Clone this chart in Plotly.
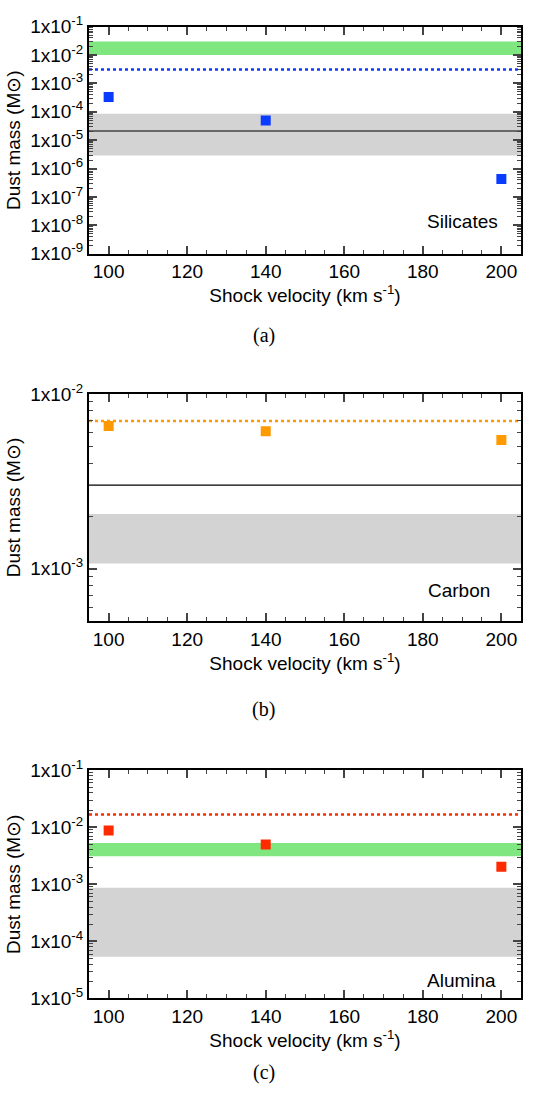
import math
import plotly.graph_objects as go

# ---------------- data ----------------
velocity = [100, 140, 200]

sil_mass = [3.3e-4, 4.9e-5, 4.3e-7]
sil_dotted = 3.1e-3
sil_green_band = [1.0e-2, 3.0e-2]
sil_gray_band = [2.9e-6, 8.5e-5]
sil_line = 2.1e-5

car_mass = [6.55e-3, 6.1e-3, 5.45e-3]
car_dotted = 7.0e-3
car_gray_band = [1.07e-3, 2.05e-3]
car_line = 3.0e-3

alu_mass = [8.75e-3, 4.97e-3, 2.03e-3]
alu_dotted = 1.67e-2
alu_green_band = [3.1e-3, 5.3e-3]
alu_gray_band = [5.4e-5, 8.75e-4]

panel_labels = ["Silicates", "Carbon", "Alumina"]
captions = ["(a)", "(b)", "(c)"]
x_ticks = [100, 120, 140, 160, 180, 200]

# ---------------- styling ----------------
X_RANGE = [95, 205]
W, H = 552, 1106
FONT = "Liberation Sans, Arial, Helvetica, sans-serif"
FS = 19
BLUE = "#0a3cff"
ORANGE = "#ff9900"
RED = "#ff2a00"
GREEN = "#80e680"
GRAY = "#d3d3d3"

x_dom = [89 / W, 521 / W]
panels_px = [(14, 246), (389.3, 621.7), (774, 1007.3)]
y_ranges = [(-9, -1), (math.log10(5e-4), -2), (-5, -1)]
x_minor = [v for v in range(95, 206, 5) if v not in x_ticks]

fig = go.Figure()


def band(lo, hi, color, xa, ya):
    fig.add_trace(go.Scatter(x=X_RANGE, y=[lo, lo], mode="lines", line=dict(width=0, color=color),
                             showlegend=False, hoverinfo="skip", xaxis=xa, yaxis=ya))
    fig.add_trace(go.Scatter(x=X_RANGE, y=[hi, hi], mode="lines", line=dict(width=0, color=color),
                             fill="tonexty", fillcolor=color, showlegend=False, hoverinfo="skip",
                             xaxis=xa, yaxis=ya))


def hline(v, color, dash, width, xa, ya):
    fig.add_trace(go.Scatter(x=X_RANGE, y=[v, v], mode="lines",
                             line=dict(color=color, dash=dash, width=width),
                             showlegend=False, hoverinfo="skip", xaxis=xa, yaxis=ya))


def points(vals, color, xa, ya):
    fig.add_trace(go.Scatter(x=velocity, y=vals, mode="markers",
                             marker=dict(symbol="square", size=10, color=color, line=dict(width=0)),
                             showlegend=False, xaxis=xa, yaxis=ya))


# panel a
band(*sil_gray_band, GRAY, "x", "y")
band(*sil_green_band, GREEN, "x", "y")
hline(sil_line, "#444444", "solid", 1.5, "x", "y")
hline(sil_dotted, BLUE, "dot", 2.5, "x", "y")
points(sil_mass, BLUE, "x", "y")

# panel b
band(*car_gray_band, GRAY, "x2", "y2")
hline(car_line, "black", "solid", 1.2, "x2", "y2")
hline(car_dotted, ORANGE, "dot", 2.5, "x2", "y2")
points(car_mass, ORANGE, "x2", "y2")

# panel c
band(*alu_gray_band, GRAY, "x3", "y3")
band(*alu_green_band, GREEN, "x3", "y3")
hline(alu_dotted, RED, "dot", 2.5, "x3", "y3")
points(alu_mass, RED, "x3", "y3")

layout = dict(
    width=W, height=H, margin=dict(l=0, r=0, t=0, b=0),
    paper_bgcolor="white", plot_bgcolor="white",
    font=dict(family=FONT, size=FS, color="black"),
    showlegend=False,
)

annotations = []
for i, (top, bot) in enumerate(panels_px):
    sfx = "" if i == 0 else str(i + 1)
    ydom = [1 - bot / H, 1 - top / H]
    lo, hi = y_ranges[i]
    dec = list(range(math.floor(lo), math.ceil(hi) + 1))
    major = [10.0 ** k for k in dec if lo - 1e-9 <= k <= hi + 1e-9]
    major_txt = ["1x10<sup>%d</sup>" % round(math.log10(v)) for v in major]
    minor = [m * 10.0 ** k for k in dec for m in range(2, 10)
             if lo < math.log10(m * 10.0 ** k) < hi]
    layout["xaxis" + sfx] = dict(
        domain=x_dom, range=X_RANGE, anchor="y" + sfx,
        tickmode="array", tickvals=x_ticks, ticks="inside", ticklen=8, tickwidth=1.5,
        minor=dict(tickmode="array", tickvals=x_minor, ticks="inside", ticklen=4, tickwidth=1.2,
                   showgrid=False),
        showline=True, linewidth=2, linecolor="black", mirror="ticks",
        showgrid=False, zeroline=False,
        tickfont=dict(size=FS),
        title=dict(text="Shock velocity (km s<sup>-1</sup>)", standoff=7, font=dict(size=FS)),
    )
    layout["yaxis" + sfx] = dict(
        domain=ydom, type="log", range=[lo, hi], anchor="x" + sfx,
        tickmode="array", tickvals=major, ticktext=major_txt,
        ticks="inside", ticklen=8, tickwidth=1.5,
        minor=dict(tickmode="array", tickvals=minor, ticks="inside", ticklen=4, tickwidth=1.2,
                   showgrid=False),
        showline=True, linewidth=2, linecolor="black", mirror="ticks",
        showgrid=False, zeroline=False,
        tickfont=dict(size=FS),
        title=dict(text="Dust mass (M\u2299)", standoff=5, font=dict(size=FS)),
    )

label_pos = [(0.951, 0.142), (0.932, 0.136), (0.947, 0.077)]
caption_y = [330, 711.7, 1083]
for i in range(3):
    sfx = "" if i == 0 else str(i + 1)
    annotations.append(dict(text=panel_labels[i], xref="x%s domain" % sfx, yref="y%s domain" % sfx,
                            x=label_pos[i][0], y=label_pos[i][1], xanchor="right", yanchor="middle",
                            showarrow=False, font=dict(size=FS)))
    annotations.append(dict(text=captions[i], xref="paper", yref="paper",
                            x=263.8 / W, y=1 - caption_y[i] / H, xanchor="center", yanchor="middle",
                            showarrow=False, font=dict(size=20, family="Liberation Serif, Times New Roman, serif")))

layout["annotations"] = annotations
fig.update_layout(**layout)
fig.write_html("out.html")
